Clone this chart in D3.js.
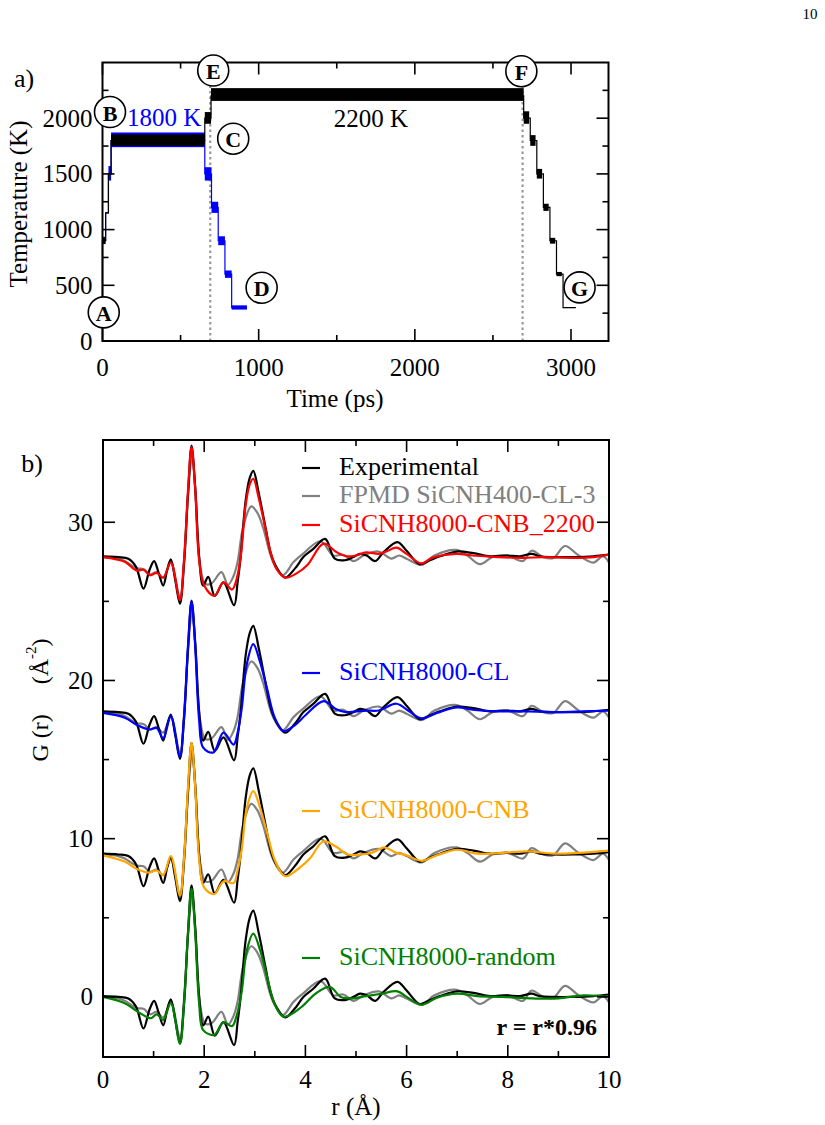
<!DOCTYPE html>
<html><head><meta charset="utf-8">
<script src="https://cdn.jsdelivr.net/npm/d3@7"></script>
<style>
html,body{margin:0;padding:0;background:#fff;}
svg text{font-family:"Liberation Serif","Times New Roman",serif;}
</style></head>
<body>
<svg id="chart" width="825" height="1125"></svg>
<script>
// ---------- Panel a) data: temperature schedule ----------
const blackTraceT = [0,0,20,20,38,38,55,55,655,655,695,695,2697,2697,2739,2739,2781,2781,2823,2823,2865,2865,2907,2907,2949,2949,3030];
const blackTraceK = [300,900,900,1150,1150,1500,1500,1800,1800,2000,2000,2200,2200,2000,2000,1800,1800,1500,1500,1200,1200,900,900,600,600,300,300];
const blueTraceT = [0,0,20,20,38,38,55,55,655,655,698,698,741,741,784,784,827,827,925];
const blueTraceK = [300,900,900,1150,1150,1500,1500,1800,1800,1500,1500,1200,1200,900,900,600,600,300,300];
// fluctuation bands: [t0, t1, Tlow, Thigh]
const blueBands = [[38,55,1440,1570],[55,655,1740,1872],[655,698,1440,1560],[698,741,1150,1250],[741,784,860,940],[784,827,567,633],[827,925,282,320]];
const blackBands = [[3,20,870,935],[55,655,1752,1855],[655,695,1950,2055],[695,2697,2155,2270],[2697,2732,1950,2062],[2739,2773,1752,1848],[2781,2815,1458,1545],[2823,2857,1168,1232],[2865,2899,874,926],[2907,2941,582,620],[2949,3030,296,304]];
const dottedTimes = [690, 2690];
const stageLetters = ["A","B","C","D","E","F","G"];
const stageT = [8, 48, 837, 1019, 709, 2682, 3055];
const stageK = [257, 2055, 1816, 478, 2428, 2422, 481];
const tempLabels = [{text:"1800 K", t:395, k:2010, color:"#0000ff"}, {text:"2200 K", t:1719, k:1993, color:"#000"}];
const timeTicks = [0,1000,2000,3000];
const tempTicks = [0,500,1000,1500,2000];

// ---------- Panel b) data: G(r) curves, [r, G] relative to each set's baseline ----------
const experimental = [[0,0.05],[0.3,0.0],[0.5,-0.1],[0.65,-0.6],[0.8,-2.0],[0.92,-0.8],[1.01,-0.25],[1.10,-1.0],[1.19,-1.8],[1.27,-0.8],[1.34,-0.15],[1.43,-1.5],[1.52,-2.95],[1.60,-0.5],[1.68,4.0],[1.75,7.05],[1.82,4.5],[1.90,0.0],[1.98,-1.8],[2.08,-1.25],[2.21,-2.45],[2.38,-1.6],[2.59,-3.05],[2.66,-1.6],[2.72,0.0],[2.82,3.6],[2.90,5.0],[2.97,5.45],[3.08,4.0],[3.21,1.9],[3.32,0.2],[3.43,-0.65],[3.60,-1.3],[3.80,-0.7],[3.96,0.0],[4.15,0.5],[4.39,1.15],[4.58,-0.1],[4.78,-0.2],[4.95,0.0],[5.08,0.2],[5.21,0.1],[5.38,-0.25],[5.54,0.3],[5.82,0.95],[6.00,0.4],[6.26,-0.45],[6.46,-0.2],[6.66,0.05],[6.99,0.35],[7.32,0.25],[7.65,0.05],[7.98,0.1],[8.24,0.05],[8.47,0.2],[8.63,0.05],[8.90,0.0],[9.29,0.0],[9.69,0.05],[10.0,0.15]];
const fpmd = [[0,0.0],[0.3,-0.1],[0.43,-0.25],[0.66,-0.7],[0.8,-0.75],[0.93,-1.1],[1.06,-0.95],[1.19,-1.3],[1.34,-0.3],[1.52,-2.6],[1.60,-0.2],[1.68,3.9],[1.76,6.4],[1.83,4.0],[1.92,-0.5],[2.02,-1.7],[2.15,-1.65],[2.34,-0.95],[2.47,-1.75],[2.58,-1.2],[2.66,-0.3],[2.77,1.9],[2.93,3.2],[3.05,2.8],[3.16,1.9],[3.36,-0.3],[3.55,-1.15],[3.77,-0.3],[3.95,0.2],[4.3,1.0],[4.55,0.1],[4.75,0.15],[4.95,-0.25],[5.15,0.1],[5.45,0.35],[5.7,-0.1],[5.85,0.1],[6.0,-0.1],[6.3,-0.5],[6.55,0.1],[6.99,0.45],[7.2,0.1],[7.45,-0.45],[7.7,0.0],[8.0,0.1],[8.3,-0.25],[8.47,0.4],[8.7,0.0],[8.9,-0.05],[9.13,0.7],[9.4,0.1],[9.69,-0.35],[9.88,0.05],[10.0,-0.35]];
const cnb2200 = [[0,0],[0.43,-0.3],[0.66,-0.85],[0.80,-0.8],[0.93,-1.15],[1.06,-1.0],[1.19,-1.3],[1.34,-0.35],[1.52,-2.7],[1.60,-0.3],[1.68,4.2],[1.75,6.95],[1.82,4.4],[1.90,-0.2],[2.0,-1.8],[2.2,-2.45],[2.38,-1.6],[2.55,-2.05],[2.64,-1.4],[2.72,0.0],[2.82,3.3],[2.90,4.6],[2.97,4.95],[3.08,3.7],[3.21,1.8],[3.32,0.2],[3.43,-0.75],[3.6,-1.3],[3.84,-1.0],[4.04,-0.5],[4.36,0.85],[4.62,0.3],[4.81,0.05],[5.0,0.1],[5.2,0.3],[5.45,0.2],[5.6,0.35],[5.8,0.6],[6.0,0.2],[6.29,-0.4],[6.5,-0.05],[6.99,0.2],[7.3,0.1],[7.8,0.0],[8.3,-0.05],[8.7,0.0],[9.3,-0.05],[9.7,0.0],[10,0.15]];
const cl = [[0,-0.05],[0.43,-0.35],[0.69,-0.85],[0.92,-1.1],[1.06,-1.0],[1.19,-1.65],[1.34,-0.25],[1.52,-2.8],[1.60,-0.4],[1.68,4.2],[1.75,7.0],[1.82,4.3],[1.90,-0.5],[1.98,-2.25],[2.18,-2.55],[2.38,-1.3],[2.58,-2.05],[2.66,-1.3],[2.74,0.2],[2.84,3.0],[2.97,4.3],[3.10,3.2],[3.24,1.5],[3.40,-0.4],[3.57,-1.2],[3.8,-0.8],[4.0,-0.2],[4.36,0.7],[4.6,0.2],[4.8,0.0],[5.0,0.05],[5.2,0.1],[5.45,0.1],[5.8,0.53],[6.05,0.05],[6.3,-0.4],[6.6,-0.05],[7.0,0.3],[7.3,0.15],[7.8,0.05],[8.4,0.05],[9.0,0.0],[9.5,0.05],[10,0.1]];
const cnb = [[0,-0.05],[0.43,-0.45],[0.66,-0.9],[0.92,-1.15],[1.06,-1.0],[1.19,-1.3],[1.34,-0.1],[1.52,-2.6],[1.60,-0.3],[1.68,4.3],[1.75,7.05],[1.82,4.4],[1.90,-0.3],[2.0,-2.1],[2.2,-2.5],[2.38,-1.7],[2.58,-1.8],[2.66,-1.0],[2.74,0.3],[2.84,2.9],[2.97,4.0],[3.10,3.0],[3.24,1.4],[3.40,-0.4],[3.6,-1.37],[3.9,-0.8],[4.1,-0.2],[4.36,0.84],[4.6,0.5],[4.85,0.0],[5.1,0.0],[5.35,0.15],[5.55,0.45],[5.8,0.1],[6.0,-0.05],[6.3,-0.4],[6.6,-0.05],[7.0,0.3],[7.4,0.05],[7.9,0.1],[8.4,0.2],[8.9,0.05],[9.4,0.1],[10,0.25]];
const randomModel = [[0,0.0],[0.43,-0.4],[0.69,-0.95],[0.95,-1.35],[1.06,-1.1],[1.19,-1.45],[1.34,-0.4],[1.52,-2.95],[1.60,-0.5],[1.68,4.1],[1.75,6.85],[1.82,4.2],[1.90,-0.4],[1.98,-2.1],[2.2,-2.4],[2.38,-1.6],[2.55,-1.85],[2.64,-1.2],[2.74,0.3],[2.84,2.9],[2.97,4.0],[3.10,3.0],[3.24,1.3],[3.40,-0.5],[3.57,-1.25],[3.9,-0.7],[4.2,0.2],[4.48,0.63],[4.7,0.0],[4.9,-0.1],[5.2,0.05],[5.5,0.2],[5.82,0.35],[6.0,0.0],[6.3,-0.5],[6.6,-0.05],[7.0,0.2],[7.4,0.05],[7.9,0.0],[8.5,-0.1],[9.0,-0.1],[9.5,0.1],[10,0.0]];
const modelNames = ["SiCNH8000-CNB_2200","SiCNH8000-CL","SiCNH8000-CNB","SiCNH8000-random"];
const modelColors = ["#ff0000","#0000ff","#ffa500","#008000"];
const modelData = [cnb2200, cl, cnb, randomModel];
const offsets = [27.8, 18.0, 9.0, 0.0];
const rTicks = [0,2,4,6,8,10];
const gTicks = [0,10,20,30];

// ---------- drawing ----------
const svg = d3.select("#chart");
svg.append("rect").attr("width",825).attr("height",1125).attr("fill","#fff");
svg.append("text").attr("x",810).attr("y",19).attr("text-anchor","middle").attr("font-size",15).text("10");

function frameAndTicks(g, x, y, xMajor, xMinor, yMajor, yMinor, fmtX, fmtY, xLabY, fs){
  const [x0,x1] = x.range(), [y0,y1] = y.range();
  const maj = 12, mino = 6;
  xMajor.concat(xMinor).forEach(v=>{
    const L = xMajor.includes(v)?maj:mino;
    g.append("line").attr("x1",x(v)).attr("x2",x(v)).attr("y1",y0).attr("y2",y0-L).attr("stroke","#000").attr("stroke-width",1.6);
    g.append("line").attr("x1",x(v)).attr("x2",x(v)).attr("y1",y1).attr("y2",y1+L).attr("stroke","#000").attr("stroke-width",1.6);
  });
  yMajor.concat(yMinor).forEach(v=>{
    const L = yMajor.includes(v)?maj:mino;
    g.append("line").attr("y1",y(v)).attr("y2",y(v)).attr("x1",x0).attr("x2",x0+L).attr("stroke","#000").attr("stroke-width",1.6);
    g.append("line").attr("y1",y(v)).attr("y2",y(v)).attr("x1",x1).attr("x2",x1-L).attr("stroke","#000").attr("stroke-width",1.6);
  });
  xMajor.forEach(v=>{
    g.append("text").attr("x",x(v)).attr("y",xLabY).attr("text-anchor","middle").attr("dominant-baseline","central").attr("font-size",fs).text(fmtX(v));
  });
  yMajor.forEach(v=>{
    g.append("text").attr("x",x0-10).attr("y",y(v)).attr("text-anchor","end").attr("dominant-baseline","central").attr("font-size",fs).text(fmtY(v));
  });
  g.append("rect").attr("x",x0).attr("y",y1).attr("width",x1-x0).attr("height",y0-y1).attr("fill","none").attr("stroke","#000").attr("stroke-width",2);
}

// ===== Panel a =====
const ga = svg.append("g");
const xT = d3.scaleLinear().domain([0,3240]).range([102.5,608.5]);
const yT = d3.scaleLinear().domain([0,2500]).range([341,62.5]);

dottedTimes.forEach(t=>{
  ga.append("line").attr("x1",xT(t)).attr("x2",xT(t)).attr("y1",yT(0)).attr("y2",yT(2500))
    .attr("stroke","#999").attr("stroke-width",2.2).attr("stroke-dasharray","2.5,3");
});
const traceLine = d3.line().x(d=>xT(d[0])).y(d=>yT(d[1]));
ga.append("path").attr("d",traceLine(blueTraceT.map((t,i)=>[t,blueTraceK[i]]))).attr("fill","none").attr("stroke","#0000ff").attr("stroke-width",1.2);
blueBands.forEach(b=>{
  ga.append("rect").attr("x",xT(b[0])).attr("width",xT(b[1])-xT(b[0])).attr("y",yT(b[3])).attr("height",yT(b[2])-yT(b[3])).attr("fill","#0000ff");
});
ga.append("path").attr("d",traceLine(blackTraceT.map((t,i)=>[t,blackTraceK[i]]))).attr("fill","none").attr("stroke","#000").attr("stroke-width",1.2);
blackBands.forEach(b=>{
  ga.append("rect").attr("x",xT(b[0])).attr("width",xT(b[1])-xT(b[0])).attr("y",yT(b[3])).attr("height",yT(b[2])-yT(b[3])).attr("fill","#000");
});
tempLabels.forEach(l=>{
  ga.append("text").attr("x",xT(l.t)).attr("y",yT(l.k)).attr("text-anchor","middle").attr("dominant-baseline","central").attr("font-size",25).attr("fill",l.color).text(l.text);
});
frameAndTicks(ga, xT, yT, timeTicks, [500,1500,2500], tempTicks, [250,750,1250,1750,2250], d=>d, d=>d, 367, 25);
stageLetters.forEach((s,i)=>{
  const cx=xT(stageT[i]), cy=yT(stageK[i]);
  ga.append("circle").attr("cx",cx).attr("cy",cy).attr("r",15.5).attr("fill","#fff").attr("stroke","#000").attr("stroke-width",1.6);
  ga.append("text").attr("x",cx).attr("y",cy+1).attr("text-anchor","middle").attr("dominant-baseline","central").attr("font-size",22).attr("font-weight","bold").text(s);
});
ga.append("text").attr("x",24).attr("y",78).attr("text-anchor","middle").attr("dominant-baseline","central").attr("font-size",26).text("a)");
ga.append("text").attr("transform","translate(18,204) rotate(-90)").attr("text-anchor","middle").attr("dominant-baseline","central").attr("font-size",25).text("Temperature (K)");
ga.append("text").attr("x",335).attr("y",398).attr("text-anchor","middle").attr("dominant-baseline","central").attr("font-size",25).text("Time (ps)");

// ===== Panel b =====
const gb = svg.append("g");
const xR = d3.scaleLinear().domain([0,10]).range([103,609]);
const yG = d3.scaleLinear().domain([-3.8,35.2]).range([1057,440]);
const clipId = "clipb";
gb.append("clipPath").attr("id",clipId).append("rect").attr("x",103).attr("y",440).attr("width",506).attr("height",617);
const plot = gb.append("g").attr("clip-path","url(#"+clipId+")");
const curve = d3.curveCatmullRom.alpha(0.5);
offsets.forEach((off,i)=>{
  const line = d3.line().x(d=>xR(d[0])).y(d=>yG(d[1]+off)).curve(curve);
  plot.append("path").attr("d",line(fpmd)).attr("fill","none").attr("stroke","#808080").attr("stroke-width",2.2);
  plot.append("path").attr("d",line(experimental)).attr("fill","none").attr("stroke","#000").attr("stroke-width",2.2);
  plot.append("path").attr("d",line(modelData[i])).attr("fill","none").attr("stroke",modelColors[i]).attr("stroke-width",2.2);
});
frameAndTicks(gb, xR, yG, rTicks, [1,3,5,7,9], gTicks, [5,15,25], d=>d, d=>d, 1079, 25);

// legend
const legendRows = [
  {name:"Experimental", color:"#000", y:466},
  {name:"FPMD SiCNH400-CL-3", color:"#808080", y:494},
  {name:modelNames[0], color:modelColors[0], y:523},
  {name:modelNames[1], color:modelColors[1], y:671},
  {name:modelNames[2], color:modelColors[2], y:809},
  {name:modelNames[3], color:modelColors[3], y:956}
];
legendRows.forEach(r=>{
  gb.append("line").attr("x1",302).attr("x2",320).attr("y1",r.y+2).attr("y2",r.y+2).attr("stroke",r.color).attr("stroke-width",2.2);
  gb.append("text").attr("x",339).attr("y",r.y).attr("dominant-baseline","central").attr("font-size",26).attr("fill",r.color).text(r.name);
});
gb.append("text").attr("x",597).attr("y",1027).attr("text-anchor","end").attr("dominant-baseline","central").attr("font-size",24).attr("font-weight","bold").text("r = r*0.96");
gb.append("text").attr("x",32).attr("y",463).attr("text-anchor","middle").attr("dominant-baseline","central").attr("font-size",26).text("b)");
const yl = gb.append("text").attr("transform","translate(40,700) rotate(-90)").attr("text-anchor","middle").attr("dominant-baseline","central").attr("font-size",24);
yl.append("tspan").text("G (r)");
yl.append("tspan").attr("dx",30).text("(Å");
yl.append("tspan").attr("dy",-9).attr("font-size",15).text("-2");
yl.append("tspan").attr("dy",9).text(")");
gb.append("text").attr("x",356).attr("y",1106).attr("text-anchor","middle").attr("dominant-baseline","central").attr("font-size",25).text("r (Å)");
</script>
</body></html>
